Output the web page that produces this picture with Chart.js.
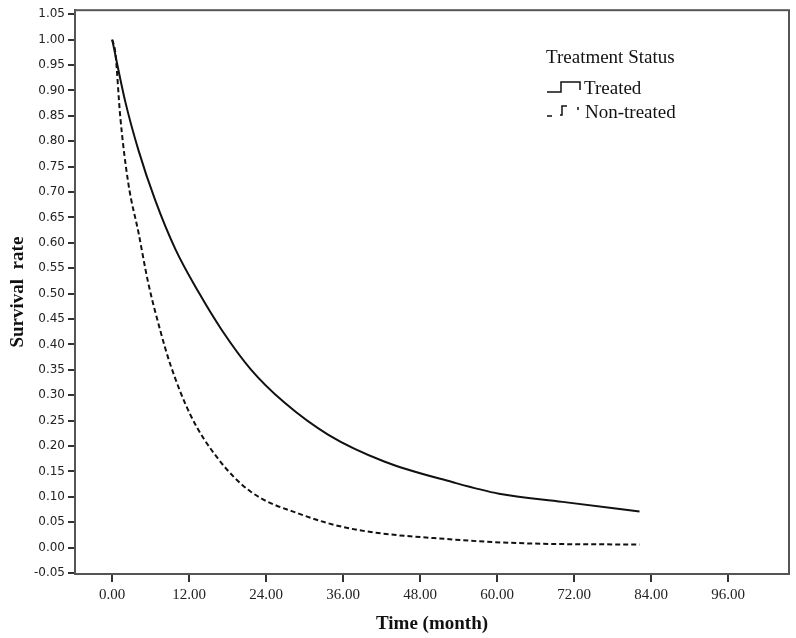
<!DOCTYPE html>
<html lang="en">
<head>
<meta charset="UTF-8">
<title>Survival rate</title>
<script src="https://cdn.jsdelivr.net/npm/chart.js"></script>
<style>
  html, body { margin: 0; padding: 0; background: #fff; }
  #wrap { width: 796px; height: 638px; position: relative; }
</style>
</head>
<body>
<div id="wrap"><canvas id="grafica" width="796" height="638"></canvas></div>
<script>
// data
const treatedMonths = [0, 2.0, 4.1, 6.7, 9.9, 13.5, 17.1, 21.6, 26.8, 33.7, 42.5, 53.0, 60.3, 70.2, 82.2];
const treatedSurv   = [1.0, 0.880, 0.782, 0.684, 0.586, 0.502, 0.428, 0.351, 0.286, 0.222, 0.169, 0.129, 0.106, 0.090, 0.071];

const nonTreatedMonths = [0, 0.5, 1.25, 2.5, 4.1, 5.6, 7.5, 9.1, 12.2, 16.5, 21.6, 29.5, 37.3, 53.0, 65.5, 82.2];
const nonTreatedSurv   = [1.0, 0.973, 0.849, 0.718, 0.620, 0.522, 0.427, 0.359, 0.261, 0.175, 0.110, 0.065, 0.037, 0.016, 0.008, 0.006];

const xTicks = [0, 12, 24, 36, 48, 60, 72, 84, 96];
const yTicks = [-0.05, 0, 0.05, 0.1, 0.15, 0.2, 0.25, 0.3, 0.35, 0.4, 0.45, 0.5, 0.55, 0.6, 0.65, 0.7, 0.75, 0.8, 0.85, 0.9, 0.95, 1.0, 1.05];

const seriesNames = ['Treated', 'Non-treated'];
const legendTitle = 'Treatment Status';

const toPoints = (xs, ys) => xs.map((x, i) => ({ x: x, y: ys[i] }));

// box round the plot area
const boxPlugin = {
  id: 'box',
  afterDraw(chart) {
    const a = chart.chartArea, c = chart.ctx;
    c.save();
    c.strokeStyle = '#555';
    c.lineWidth = 2;
    c.strokeRect(a.left, a.top, a.right - a.left, a.bottom - a.top);
    c.restore();
  }
};

// SPSS style legend with step symbols
const legendPlugin = {
  id: 'stepLegend',
  afterDraw(chart) {
    const c = chart.ctx;
    c.save();
    c.fillStyle = '#111';
    c.font = '19px "Liberation Serif", serif';
    c.textBaseline = 'middle';
    c.fillText(legendTitle, 546, 58);

    c.strokeStyle = '#111';
    c.lineWidth = 1.5;
    // solid step
    c.beginPath();
    c.moveTo(547, 92); c.lineTo(561, 92); c.lineTo(561, 82); c.lineTo(580, 82); c.lineTo(580, 90);
    c.stroke();
    // dashed step
    c.beginPath();
    c.moveTo(547, 116); c.lineTo(552, 116);
    c.moveTo(560, 115); c.lineTo(562, 115); c.lineTo(562, 106); c.lineTo(567, 106);
    c.moveTo(578, 107); c.lineTo(578, 110);
    c.stroke();

    c.fillText(seriesNames[0], 584, 89);
    c.fillText(seriesNames[1], 585, 113);
    c.restore();
  }
};

const ctx = document.getElementById('grafica').getContext('2d');
new Chart(ctx, {
  type: 'scatter',
  data: {
    datasets: [{
      label: seriesNames[0],
      data: toPoints(treatedMonths, treatedSurv),
      showLine: true,
      borderColor: '#111',
      borderWidth: 2,
      pointRadius: 0,
      cubicInterpolationMode: 'monotone'
    }, {
      label: seriesNames[1],
      data: toPoints(nonTreatedMonths, nonTreatedSurv),
      showLine: true,
      borderColor: '#111',
      borderWidth: 2,
      borderDash: [5, 3],
      pointRadius: 0,
      cubicInterpolationMode: 'monotone'
    }]
  },
  options: {
    responsive: false,
    animation: false,
    layout: { padding: { top: 6, right: 7, left: 0, bottom: 0 } },
    plugins: { legend: { display: false }, tooltip: { enabled: false } },
    scales: {
      x: {
        type: 'linear',
        min: -5.8,
        max: 105.5,
        afterBuildTicks: s => { s.ticks = xTicks.map(v => ({ value: v })); },
        afterFit: s => { s.height = 64; },
        grid: { display: true, drawOnChartArea: false, tickLength: 8, color: '#333', lineWidth: 2 },
        border: { display: true, color: '#555', width: 2 },
        ticks: {
          padding: 4,
          color: '#222',
          font: { family: '"Liberation Serif", serif', size: 15 },
          callback: v => v.toFixed(2),
          maxRotation: 0
        },
        title: {
          display: true,
          text: 'Time (month)',
          color: '#111',
          font: { family: '"Liberation Serif", serif', size: 19, weight: 'bold' },
          padding: { top: 0, bottom: 3 }
        }
      },
      y: {
        min: -0.052,
        max: 1.058,
        afterBuildTicks: s => { s.ticks = yTicks.map(v => ({ value: v })); },
        afterFit: s => { s.width = 75; },
        grid: { display: true, drawOnChartArea: false, tickLength: 7, color: '#333', lineWidth: 2 },
        border: { display: true, color: '#555', width: 2 },
        ticks: {
          padding: 3,
          color: '#222',
          font: { family: '"DejaVu Sans", sans-serif', size: 12 },
          callback: v => v.toFixed(2)
        },
        title: {
          display: true,
          text: 'Survival  rate',
          color: '#111',
          font: { family: '"Liberation Serif", serif', size: 19, weight: 'bold' },
          padding: { top: 7, bottom: 0 }
        }
      }
    }
  },
  plugins: [boxPlugin, legendPlugin]
});
</script>
</body>
</html>
